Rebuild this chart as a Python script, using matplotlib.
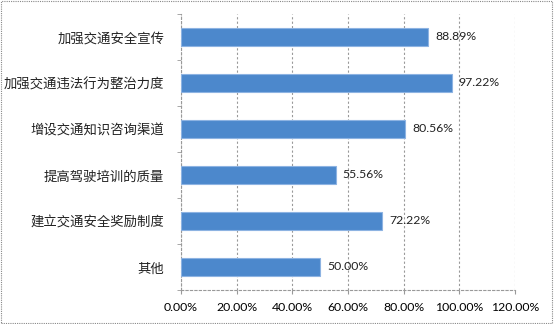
import matplotlib
matplotlib.use("Agg")
import matplotlib.pyplot as plt
from matplotlib.patches import Rectangle

plt.rcParams['font.family'] = ['Noto Sans CJK SC', 'DejaVu Sans']

categories = ["加强交通安全宣传", "加强交通违法行为整治力度", "增设交通知识咨询渠道",
              "提高驾驶培训的质量", "建立交通安全奖励制度", "其他"]
values = [88.89, 97.22, 80.56, 55.56, 72.22, 50.00]
x_ticks = [0, 20, 40, 60, 80, 100, 120]
x_labels = ["0.00%", "20.00%", "40.00%", "60.00%", "80.00%", "100.00%", "120.00%"]

fig = plt.figure(figsize=(5.54, 3.24), dpi=100)
ax = fig.add_axes([0.3267, 0.105, 0.603, 0.852])

pos = list(range(len(categories)))[::-1]
ax.barh(pos, values, height=0.4, color='#4C88CC', edgecolor='#8DB3E2', linewidth=0.8, zorder=3)
for p, v in zip(pos, values):
    ax.text(v + 2.5, p, f"{v:.2f}%", va='center', ha='left', fontsize=8.8,
            family='Lato', color='#222222', zorder=4)

ax.set_xlim(0, 120)
ax.set_ylim(-0.5, len(categories) - 0.5)
ax.set_xticks(x_ticks)
ax.set_xticklabels(x_labels, fontsize=8.8, family='Lato')
ax.set_yticks(pos)
ax.set_yticklabels(categories, fontsize=9.6, color='#222222')
ax.tick_params(axis='y', length=0, pad=12)
ax.set_yticks([i - 0.5 for i in range(len(categories) + 1)], minor=True)
ax.tick_params(axis='y', which='minor', length=3, color='#999999')
ax.tick_params(axis='x', length=3, color='#999999', pad=6)

ax.grid(axis='x', linestyle=(0, (2, 2)), color='#999999', linewidth=0.8, zorder=0)
for side in ['top', 'right']:
    ax.spines[side].set_visible(False)
ax.spines['left'].set_color('#999999')
ax.spines['bottom'].set_color('#999999')
ax.spines['bottom'].set_linestyle((0, (2, 2)))
ax.spines['left'].set_linestyle((0, (2, 2)))

fig.patches.append(Rectangle((0.002, 0.003), 0.995, 0.993, transform=fig.transFigure,
                             fill=False, edgecolor='#888888', linewidth=0.8,
                             linestyle=(0, (1, 1))))

fig.savefig("out.png", dpi=100)
